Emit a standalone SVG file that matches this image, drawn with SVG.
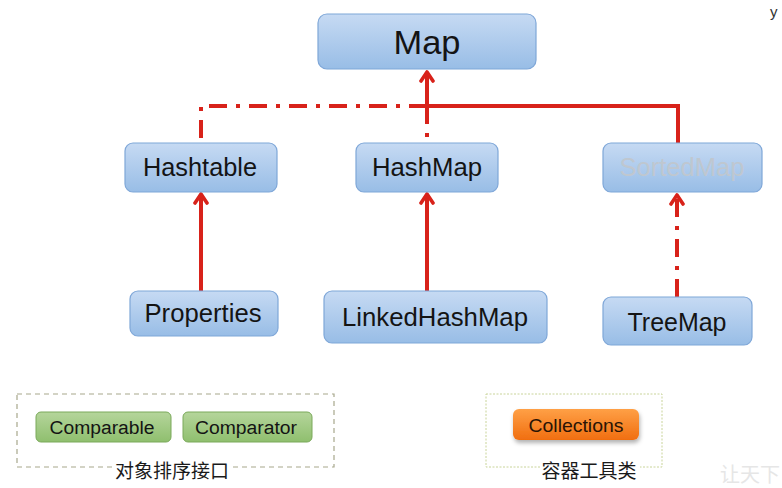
<svg xmlns="http://www.w3.org/2000/svg" width="782" height="488" viewBox="0 0 782 488">
<defs>
<linearGradient id="blue" x1="0" y1="0" x2="0" y2="1">
<stop offset="0" stop-color="#c6daf3"/>
<stop offset="1" stop-color="#98bde6"/>
</linearGradient>
<linearGradient id="green" x1="0" y1="0" x2="0" y2="1">
<stop offset="0" stop-color="#b5d59b"/>
<stop offset="1" stop-color="#8fbf6e"/>
</linearGradient>
<linearGradient id="orange" x1="0" y1="0" x2="0" y2="1">
<stop offset="0" stop-color="#ffa046"/>
<stop offset="1" stop-color="#f06e10"/>
</linearGradient>
<filter id="sh" x="-10%" y="-20%" width="130%" height="160%">
<feDropShadow dx="1" dy="3" stdDeviation="2" flood-color="#000" flood-opacity="0.3"/>
</filter>
<marker id="arr" markerWidth="16" markerHeight="16" refX="13" refY="8" orient="auto" markerUnits="userSpaceOnUse" viewBox="0 0 16 16">
<path d="M4,2 L13,8 L4,14" fill="none" stroke="#d8221a" stroke-width="3.6" stroke-linecap="round" stroke-linejoin="round"/>
</marker>
</defs>
<style>
.node{fill:url(#blue);stroke:#7fa7d8;stroke-width:1.2}
.gnode{fill:url(#green);stroke:#7aa95a;stroke-width:1}
.t{font-family:"Liberation Sans",Arial,sans-serif;fill:#141414;text-anchor:middle}
.cn{font-family:"Noto Sans CJK SC",sans-serif;fill:#1a1a1a;text-anchor:middle;font-size:19px}
.solid{fill:none;stroke:#d8221a;stroke-width:4}
.dd{fill:none;stroke:#d8221a;stroke-width:4;stroke-dasharray:18 9 4 9}
</style>
<g id="connectors">
<path class="solid" d="M427,106 H678 V143"/>
<path class="dd" d="M427,106 H201 V143"/>
<path class="dd" d="M427,106 V143"/>
<path class="solid" d="M427,106 V72" marker-end="url(#arr)"/>
<path class="solid" d="M201,291 V194" marker-end="url(#arr)"/>
<path class="solid" d="M427,291 V194" marker-end="url(#arr)"/>
<path class="dd" d="M677,297 V195" marker-end="url(#arr)"/>
</g>
<g id="map">
<rect class="node" x="318" y="14" width="218" height="55" rx="9"/>
<text class="t" x="427" y="54" font-size="34" textLength="67" lengthAdjust="spacingAndGlyphs">Map</text>
</g>
<g id="hashtable">
<rect class="node" x="125" y="143" width="152" height="49" rx="8"/>
<text class="t" x="200" y="176" font-size="25" textLength="114" lengthAdjust="spacingAndGlyphs">Hashtable</text>
</g>
<g id="hashmap">
<rect class="node" x="356" y="143" width="142" height="49" rx="8"/>
<text class="t" x="427" y="176" font-size="25" textLength="110" lengthAdjust="spacingAndGlyphs">HashMap</text>
</g>
<g id="sortedmap">
<rect class="node" x="603" y="143" width="159" height="49" rx="8"/>
<text class="t" x="682" y="176" font-size="25" textLength="125" lengthAdjust="spacingAndGlyphs" style="fill:#bfc7d0">SortedMap</text>
</g>
<g id="properties">
<rect class="node" x="130" y="291" width="148" height="45" rx="8"/>
<text class="t" x="203" y="322" font-size="25" textLength="117" lengthAdjust="spacingAndGlyphs">Properties</text>
</g>
<g id="linkedhashmap">
<rect class="node" x="324" y="291" width="223" height="52" rx="8"/>
<text class="t" x="435" y="326" font-size="25" textLength="186" lengthAdjust="spacingAndGlyphs">LinkedHashMap</text>
</g>
<g id="treemap">
<rect class="node" x="603" y="297" width="149" height="48" rx="8"/>
<text class="t" x="677" y="331" font-size="25" textLength="99" lengthAdjust="spacingAndGlyphs">TreeMap</text>
</g>
<g id="sorting-group">
<rect x="17" y="394" width="317" height="73" fill="none" stroke="#a7a78c" stroke-width="1.2" stroke-dasharray="5 4"/>
<g id="comparable">
<rect class="gnode" x="36" y="412" width="135" height="30" rx="5"/>
<text class="t" x="102" y="434" font-size="18" textLength="105" lengthAdjust="spacingAndGlyphs">Comparable</text>
</g>
<g id="comparator">
<rect class="gnode" x="183" y="412" width="129" height="30" rx="5"/>
<text class="t" x="246" y="434" font-size="18" textLength="102" lengthAdjust="spacingAndGlyphs">Comparator</text>
</g>
<rect x="112" y="460" width="120" height="16" fill="#fff"/>
<text class="cn" x="172" y="478">对象排序接口</text>
</g>
<g id="tools-group">
<rect x="486" y="394" width="176" height="73" fill="none" stroke="#c9d49a" stroke-width="1" stroke-dasharray="2 1.5"/>
<g id="collections">
<rect x="513" y="409" width="126" height="31" rx="6" fill="url(#orange)" filter="url(#sh)"/>
<text class="t" x="576" y="432" font-size="19" textLength="95" lengthAdjust="spacingAndGlyphs" style="fill:#2a1405">Collections</text>
</g>
<rect x="540" y="460" width="100" height="16" fill="#fff"/>
<text class="cn" x="589" y="478">容器工具类</text>
</g>
<text x="770" y="17" font-family="Liberation Sans, sans-serif" font-size="15" fill="#333">y</text>
<text x="720" y="482" font-family="Noto Sans CJK SC, sans-serif" font-size="20" fill="#e6e6e6">让天下</text>
</svg>
